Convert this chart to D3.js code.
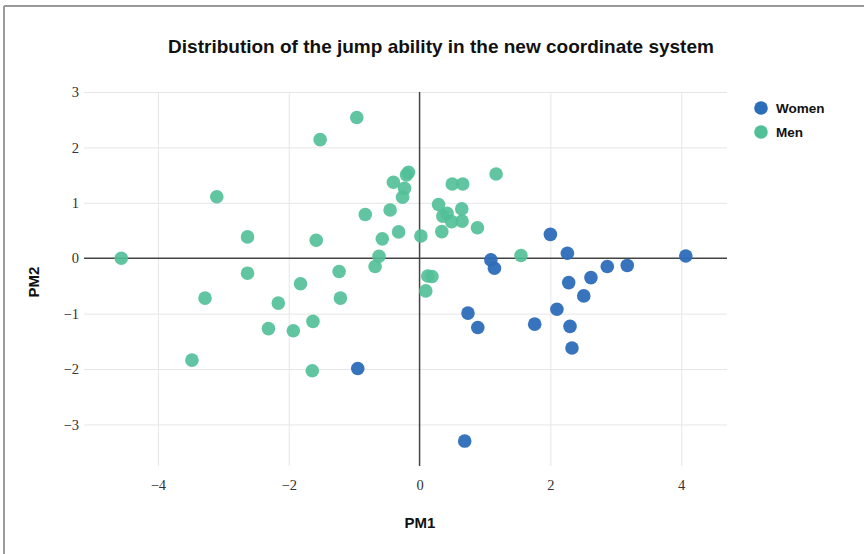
<!DOCTYPE html>
<html lang="en">
<head>
<meta charset="utf-8">
<title>Jump ability scatter</title>
<script src="https://cdn.jsdelivr.net/npm/d3@7"></script>
<style>
  body { margin: 0; background: #fff; }
  .tick text { font-family: "Liberation Serif", "DejaVu Serif", serif; font-size: 14.5px; fill: #333; }
</style>
</head>
<body>
<script>
// series values (PM1, PM2)
var womenX = [2.00, 2.26, 4.07, 1.09, 1.145, 2.87, 3.175, 2.62, 2.28, 2.51, 2.10, 0.74, 0.89, 1.76, 2.30, 2.33, 0.69, -0.945];
var womenY = [0.43, 0.09, 0.04, -0.03, -0.18, -0.15, -0.13, -0.35, -0.44, -0.68, -0.92, -0.99, -1.25, -1.19, -1.23, -1.62, -3.30, -1.99];

var menX = [-4.56, -3.10, -2.63, -2.63, -1.52, -1.58, -0.96, -0.83, -0.45, -0.40,
            -0.23, -0.26, -0.20, -0.17, -0.32, -0.57, -0.62, -0.68, 0.02, -1.23,
            0.29, 0.42, 0.355, 0.49, 0.645, 0.65, 0.50, 0.66, 1.17, 0.34,
            0.885, 1.55, 0.125, 0.19, 0.095, -3.28, -3.48, -2.31, -2.16, -1.93,
            -1.82, -1.63, -1.64, -1.21];
var menY = [0.00, 1.11, 0.385, -0.27, 2.14, 0.325, 2.54, 0.79, 0.87, 1.37,
            1.26, 1.10, 1.505, 1.55, 0.475, 0.35, 0.035, -0.15, 0.40, -0.24,
            0.97, 0.81, 0.76, 0.66, 0.89, 0.67, 1.34, 1.34, 1.52, 0.48,
            0.55, 0.05, -0.32, -0.33, -0.59, -0.72, -1.84, -1.27, -0.81, -1.31,
            -0.46, -1.14, -2.03, -0.72];

var xTicks = [-4, -2, 0, 2, 4];
var yTicks = [-3, -2, -1, 0, 1, 2, 3];
var seriesNames = ["Women", "Men"];
var seriesColors = ["#2c6db9", "#51bf98"];

var w = 864, h = 554;
var mLeft = 84, mRight = 727, mTop = 92, mBottom = 466;

var svg = d3.select("body").append("svg")
  .attr("width", w)
  .attr("height", h);

// frame (only left and top edges show in the screenshot)
svg.append("line").attr("x1", 4).attr("x2", w).attr("y1", 6).attr("y2", 6)
  .attr("stroke", "#9a9a9a").attr("stroke-width", 2);
svg.append("line").attr("x1", 4).attr("x2", 4).attr("y1", 6).attr("y2", h)
  .attr("stroke", "#9a9a9a").attr("stroke-width", 2);

var xScale = d3.scaleLinear().domain([-5.13, 4.70]).range([mLeft, mRight]);
var yScale = d3.scaleLinear().domain([-3.75, 3]).range([mBottom, mTop]);

var fmt = function(d) { return d < 0 ? "\u2212" + Math.abs(d) : "" + d; };

// grid
var xAxis = d3.axisBottom(xScale).tickValues(xTicks).tickSize(-(mBottom - mTop)).tickPadding(14).tickFormat(fmt);
var yAxis = d3.axisLeft(yScale).tickValues(yTicks).tickSize(-(mRight - mLeft)).tickPadding(5).tickFormat(fmt);

var gx = svg.append("g").attr("class", "axis")
  .attr("transform", "translate(0," + mBottom + ")")
  .call(xAxis);
var gy = svg.append("g").attr("class", "axis")
  .attr("transform", "translate(" + mLeft + ",0)")
  .call(yAxis);
svg.selectAll(".axis .domain").remove();
svg.selectAll(".axis line").attr("stroke", "#e6e6e6").attr("stroke-width", 1);
gx.selectAll("line").filter(function(d) { return d === 0; }).remove();
gy.selectAll("line").filter(function(d) { return d === 0; }).remove();

// zero lines
svg.append("line")
  .attr("x1", xScale(0)).attr("x2", xScale(0))
  .attr("y1", mTop).attr("y2", mBottom)
  .attr("stroke", "#444").attr("stroke-width", 1.5);
svg.append("line")
  .attr("x1", mLeft).attr("x2", mRight)
  .attr("y1", yScale(0)).attr("y2", yScale(0))
  .attr("stroke", "#444").attr("stroke-width", 1.5);

// points
var women = womenX.map(function(x, i) { return [x, womenY[i]]; });
var men = menX.map(function(x, i) { return [x, menY[i]]; });

svg.append("g").selectAll("circle")
  .data(women)
  .enter()
  .append("circle")
  .attr("cx", function(d) { return xScale(d[0]); })
  .attr("cy", function(d) { return yScale(d[1]); })
  .attr("r", 6.8)
  .attr("fill", seriesColors[0])
  .attr("fill-opacity", 0.95);

svg.append("g").selectAll("circle")
  .data(men)
  .enter()
  .append("circle")
  .attr("cx", function(d) { return xScale(d[0]); })
  .attr("cy", function(d) { return yScale(d[1]); })
  .attr("r", 6.8)
  .attr("fill", seriesColors[1])
  .attr("fill-opacity", 0.9);

// title and axis labels
svg.append("text")
  .attr("x", 441).attr("y", 53)
  .attr("text-anchor", "middle")
  .attr("font-family", "Liberation Sans, Arial, sans-serif")
  .attr("font-weight", "bold")
  .attr("font-size", "19px")
  .attr("fill", "#111")
  .text("Distribution of the jump ability in the new coordinate system");

svg.append("text")
  .attr("x", 420).attr("y", 528)
  .attr("text-anchor", "middle")
  .attr("font-family", "Liberation Sans, Arial, sans-serif")
  .attr("font-weight", "bold")
  .attr("font-size", "15px")
  .attr("fill", "#111")
  .text("PM1");

svg.append("text")
  .attr("transform", "translate(39,282) rotate(-90)")
  .attr("text-anchor", "middle")
  .attr("font-family", "Liberation Sans, Arial, sans-serif")
  .attr("font-weight", "bold")
  .attr("font-size", "15px")
  .attr("fill", "#111")
  .text("PM2");

// legend
var legend = svg.append("g").selectAll("g")
  .data(seriesNames)
  .enter()
  .append("g")
  .attr("transform", function(d, i) { return "translate(761," + (108 + i * 24) + ")"; });
legend.append("circle")
  .attr("r", 6.8)
  .attr("fill", function(d, i) { return seriesColors[i]; });
legend.append("text")
  .attr("x", 15).attr("y", 5)
  .attr("font-family", "Liberation Sans, Arial, sans-serif")
  .attr("font-weight", "bold")
  .attr("font-size", "13.5px")
  .attr("fill", "#111")
  .text(function(d) { return d; });
</script>
</body>
</html>
